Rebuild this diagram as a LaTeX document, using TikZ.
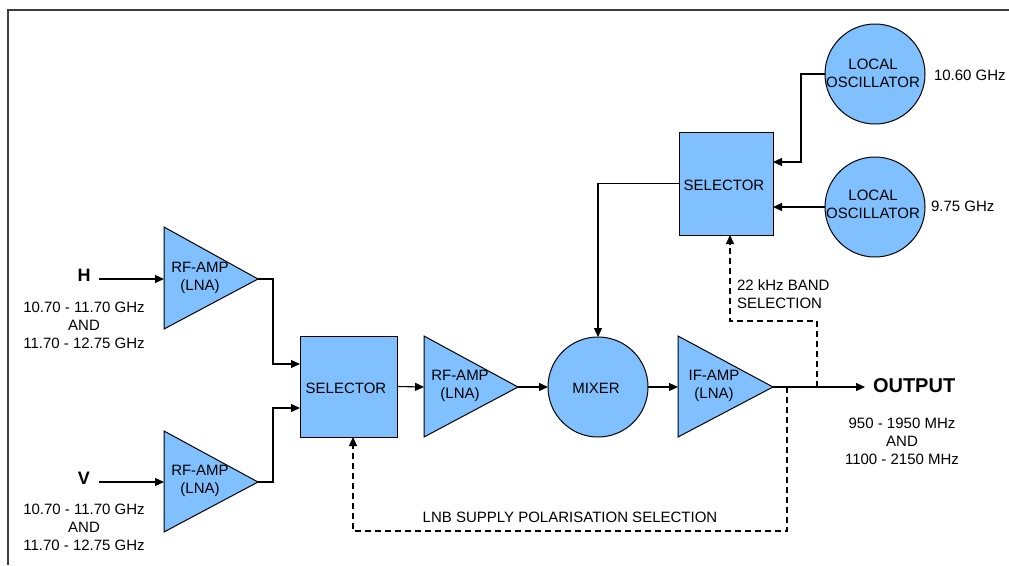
\documentclass[tikz,border=0pt]{standalone}
\usepackage{fontspec}
\setmainfont{Liberation Sans}
\usetikzlibrary{arrows.meta,calc}
\definecolor{blockblue}{RGB}{128,192,255}
\definecolor{framegray}{RGB}{60,60,60}
\begin{document}
\begin{tikzpicture}[x=1pt,y=-1pt,
  every node/.style={inner sep=0pt,outer sep=0pt},
  txt/.style={font=\fontsize{15}{18}\selectfont,align=center},
  big/.style={font=\fontsize{18}{20}\bfseries\selectfont},
  bigger/.style={font=\fontsize{20}{22}\bfseries\selectfont},
  selbox/.style={draw,fill=blockblue,line width=1pt},
  ring/.style={circle,draw,fill=blockblue,line width=1pt,minimum size=100pt},
  ampbody/.style={draw,fill=blockblue,line width=1pt,line join=miter},
  sig/.style={line width=1.1pt,-{Triangle[length=9pt,width=8pt]}},
  ctl/.style={line width=1.1pt,dash pattern=on 6pt off 4pt,-{Triangle[length=9pt,width=8pt]}}]
\useasboundingbox (0,0) rectangle (1009,565);
\fill[white] (0,0) rectangle (1009,565);

% outer frame
\draw[framegray,line width=1.5pt] (1009,10) -- (8,10) -- (8,565);

% amplifier triangles
\draw[ampbody] (164,227) -- (258,279) -- (164,329) -- cycle;
\coordinate (a1in) at (164,279); \coordinate (a1out) at (258,279);
\draw[ampbody] (164,431) -- (258,482) -- (164,532) -- cycle;
\coordinate (a0in) at (164,482); \coordinate (a0out) at (258,482);
\draw[ampbody] (424,336) -- (518,387) -- (424,437) -- cycle;
\coordinate (a2in) at (424,387); \coordinate (a2out) at (518,387);
\draw[ampbody] (678,336) -- (773,387) -- (678,437) -- cycle;
\coordinate (a3in) at (678,387); \coordinate (a3out) at (773,387);

\node[txt] (a1t) at (200,278) {RF-AMP\\(LNA)};
\node[txt] (a0t) at (200,481) {RF-AMP\\(LNA)};
\node[txt] (a2t) at (460,386) {RF-AMP\\(LNA)};
\node[txt] (a3t) at (714,386) {IF-AMP\\(LNA)};

% selectors, mixer and oscillators
\node[selbox,minimum width=97pt,minimum height=101pt] (sel1) at (348.5,386.5) {};
\node[txt] (sel1t) at (346,388) {SELECTOR};
\node[selbox,minimum width=94pt,minimum height=103pt] (sel2) at (726,183.5) {};
\node[txt] (sel2t) at (724,185) {SELECTOR};
\node[ring] (mix) at (598,387) {};
\node[txt] (mixt) at (596,388) {MIXER};
\node[ring] (lo1) at (875,74) {};
\node[txt] (lo1t) at (873,73) {LOCAL\\OSCILLATOR};
\node[ring] (lo2) at (875,207) {};
\node[txt] (lo2t) at (873,204) {LOCAL\\OSCILLATOR};
\node[txt,anchor=west] (f1) at (934,75) {10.60 GHz};
\node[txt,anchor=west] (f2) at (931,206) {9.75 GHz};

% inputs
\node[big] (hlab) at (84,275) {H};
\node[txt] (hband) at (84,325) {10.70 - 11.70 GHz\\AND\\11.70 - 12.75 GHz};
\node[big] (vlab) at (84,478) {V};
\node[txt] (vband) at (84,527) {10.70 - 11.70 GHz\\AND\\11.70 - 12.75 GHz};

% output
\node[bigger,anchor=west] (outlab) at (873,386) {OUTPUT};
\node[txt] (oband) at (902,441) {950 - 1950 MHz\\AND\\1100 - 2150 MHz};
\coordinate (outend) at (865,387);

% control labels
\node[txt] (lnb) at (570,517) {LNB SUPPLY POLARISATION SELECTION};
\node[txt,anchor=west,align=left] (band) at (737,294) {22 kHz BAND\\SELECTION};

% signal path
\draw[sig] (99,279) -- (a1in);
\draw[sig] (99,482) -- (a0in);
\draw[sig] (a1out) -- ++(15,0) |- ([yshift=22.5pt]sel1.west);
\draw[sig] (a0out) -- ++(15,0) |- ([yshift=-21.5pt]sel1.west);
\draw[sig] (sel1.east) -- (a2in);
\draw[sig] (a2out) -- (mix.west);
\draw[sig] (mix.east) -- (a3in);
\draw[sig] (a3out) -- (outend);
\draw[sig] (sel2.west) -| (mix.north);
\draw[sig] (lo1.west) -- ++(-24,0) |- ([yshift=21.5pt]sel2.east);
\draw[sig] (lo2.west) -- (lo2.west -| sel2.east);

% supply control paths
\coordinate (t1) at (787,387);
\coordinate (t2) at (817,387);
\draw[ctl] (t1) -- (787,531) -| ([xshift=4.5pt]sel1.south);
\draw[ctl] (t2) -- (817,321) -| ([xshift=4pt]sel2.south);
\end{tikzpicture}
\end{document}
